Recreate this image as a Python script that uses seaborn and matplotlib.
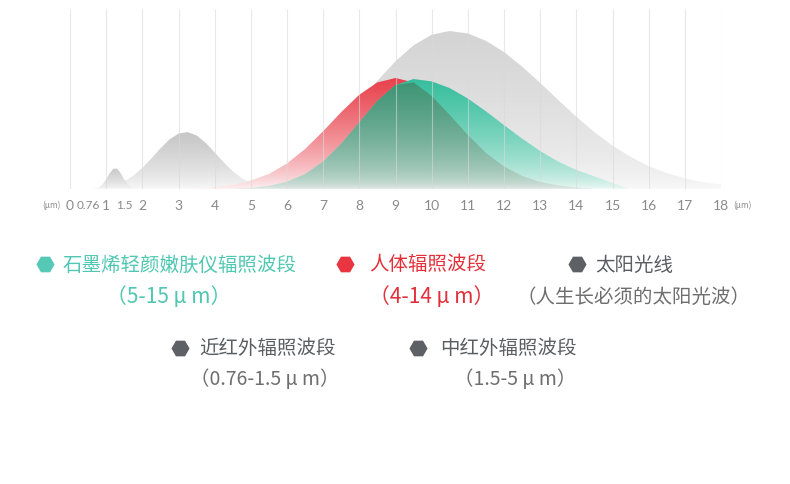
import numpy as np
import matplotlib
matplotlib.use("Agg")
import matplotlib.pyplot as plt
import matplotlib.colors as mcolors
from matplotlib.transforms import ScaledTranslation
import seaborn as sns

# wavelength grid (um) shared by the three big curves
x_main = [3.5, 4.0, 4.5, 5.0, 5.5, 6.0, 6.5, 7.0, 7.5, 8.0, 8.5, 9.0, 9.5, 10.0,
          10.5, 11.0, 11.5, 12.0, 12.5, 13.0, 13.5, 14.0, 14.5, 15.0, 15.5,
          16.0, 16.5, 17.0, 17.5, 18.0]
sun = [0, 2.9, 5.3, 9.1, 14.9, 23.3, 34.8, 49.6, 67.5, 87.5, 108.3, 127.7, 143.7, 154.3,
       158, 155.5, 148.2, 136.9, 122.4, 106.1, 89.0, 72.3, 56.9, 43.4, 32.1,
       22.9, 15.9, 10.7, 6.9, 4.4]
body = [0, 1.9, 4.1, 8.1, 15.0, 25.5, 40.0, 57.8, 76.9, 94.3, 106.6, 111, 106.6, 93.0,
        74.0, 54.0, 36.0, 22.5, 13.0, 7.0, 3.5, 1.5, 0, 0, 0,
        0, 0, 0, 0, 0]
device = [0, 0, 0, 1.0, 3.1, 7.2, 14.9, 27.4, 45.2, 66.7, 88.1, 104.0, 110, 107.6,
          100.9, 90.5, 77.7, 63.9, 50.4, 38.0, 27.4, 19.0, 12.6, 6.0, 0,
          0, 0, 0, 0, 0]

x_mid = [1.25, 1.5, 1.75, 2.0, 2.25, 2.5, 2.75, 3.0, 3.25, 3.5, 3.75, 4.0, 4.25, 4.5, 4.75, 5.0, 5.25]
mid_ir = [0, 7.7, 13.3, 21.0, 30.5, 40.6, 49.5, 55.4, 56.9, 53.6, 46.2, 36.6, 26.6, 17.7, 10.8, 6.1, 0]

x_near = [0.6, 0.7, 0.8, 0.9, 1.0, 1.1, 1.2, 1.3, 1.4, 1.5, 1.6, 1.7, 1.8, 1.9]
near_ir = [0, 0.5, 1.7, 4.5, 9.6, 15.9, 20.3, 20.3, 15.9, 9.6, 4.5, 1.7, 0.5, 0]

tick_vals = [0, 0.76, 1, 1.5, 2, 3, 4, 5, 6, 7, 8, 9, 10, 11, 12, 13, 14, 15, 16, 17, 18]
tick_labels = ["0", "0.76", "1", "1.5", "2", "3", "4", "5", "6", "7", "8", "9", "10",
               "11", "12", "13", "14", "15", "16", "17", "18"]
grid_vals = list(range(0, 19))

legend_names = ["石墨烯轻颜嫩肤仪辐照波段", "人体辐照波段", "太阳光线", "近红外辐照波段", "中红外辐照波段"]
legend_ranges = ["（5-15 μ m）", "（4-14 μ m）", "（人生长必须的太阳光波）", "（0.76-1.5 μ m）", "（1.5-5 μ m）"]
legend_colors = ["#55c9b5", "#e8353f", "#5d6165", "#5d6165", "#5d6165"]
legend_text_colors = ["#4fc7b2", "#e22f3a", "#5a5e62", "#5a5e62", "#5a5e62"]
range_text_colors = ["#4fc7b2", "#e22f3a", "#6e6e6e", "#6e6e6e", "#6e6e6e"]

sns.set_theme(style="white")
plt.rcParams["font.family"] = ["Noto Sans CJK SC", "DejaVu Sans"]

fig = plt.figure(figsize=(7.9, 4.85), dpi=100)
ax = fig.add_axes([70 / 790, (485 - 190) / 485, 651 / 790, 180 / 485])


def grad_fill(ax, x, y, top, bottom, gamma=1.0, z=1):
    poly = ax.fill_between(x, 0, y, facecolor="none", edgecolor="none")
    ymax = max(y)
    t = np.linspace(0, 1, 256) ** gamma
    c0 = np.array(mcolors.to_rgb(bottom))
    c1 = np.array(mcolors.to_rgb(top))
    img = np.ones((256, 1, 4))
    img[:, 0, :3] = c0 + (c1 - c0) * t[:, None]
    im = ax.imshow(img, extent=[min(x), max(x), 0, ymax], origin="lower",
                   aspect="auto", zorder=z, interpolation="bilinear")
    im.set_clip_path(poly.get_paths()[0], transform=ax.transData)


grad_fill(ax, x_main, sun, "#d4d4d4", "#fbfbfb", 0.55, 1)
grad_fill(ax, x_mid, mid_ir, "#c6c6c6", "#fafafa", 0.7, 2)
grad_fill(ax, x_near, near_ir, "#c9c9c9", "#f8f8f8", 0.7, 2)
grad_fill(ax, x_main, body, "#e8404b", "#fdf2f3", 0.75, 3)
grad_fill(ax, x_main, device, "#36be9c", "#f3faf8", 0.6, 4)
overlap = np.minimum(body, device)
grad_fill(ax, x_main, overlap, "#3e9474", "#eceeed", 0.5, 5)

ax.vlines(grid_vals, 0, 180, color="#d9d9d9", lw=0.8, alpha=0.6, zorder=6)

ax.set_xlim(0, 18)
ax.set_ylim(0, 180)
ax.set_yticks([])
ax.set_xticks(tick_vals, tick_labels)
ax.tick_params(axis="x", length=0, pad=7, labelsize=10, labelcolor="#8a8a8a")
for lab in ax.get_xticklabels():
    lab.set_family(["Lato", "DejaVu Sans"])
    if lab.get_text() in ("0.76", "1.5"):
        lab.set_fontsize(8.5)
    if lab.get_text() == "0.76":
        lab.set_transform(lab.get_transform() + ScaledTranslation(-6.5 / 72, 0, fig.dpi_scale_trans))
sns.despine(ax=ax, left=True, bottom=True)

tr = ax.get_xaxis_transform()
ax.text(-0.5, -0.083, "(μm)", transform=tr, ha="center", va="center", fontsize=6, color="#8a8a8a")
ax.text(18.6, -0.083, "(μm)", transform=tr, ha="center", va="center", fontsize=6, color="#8a8a8a")

# legend drawn in pixel space
lx = fig.add_axes([0, 0, 1, 1], facecolor="none")
lx.set_xlim(0, 790)
lx.set_ylim(485, 0)
lx.axis("off")
hex_pos = [(45, 265), (345, 265), (577, 265), (180, 349), (418, 349)]
name_x = [63, 369, 595, 199, 440]
range_pos = [(169, 297), (432, 297), (634, 297), (265, 380), (515, 380)]
range_size = [15, 15, 14, 14, 14]
range_weight = ["medium", "medium", "normal", "normal", "normal"]
for i in range(5):
    lx.scatter([hex_pos[i][0]], [hex_pos[i][1]], marker="H", s=170, color=legend_colors[i], lw=0)
    lx.text(name_x[i], hex_pos[i][1], legend_names[i], ha="left", va="center",
            fontsize=14, color=legend_text_colors[i])
    lx.text(range_pos[i][0], range_pos[i][1], legend_ranges[i], ha="center", va="center",
            fontsize=range_size[i], fontweight=range_weight[i], color=range_text_colors[i])

fig.savefig("out.png", dpi=100, facecolor="white")
